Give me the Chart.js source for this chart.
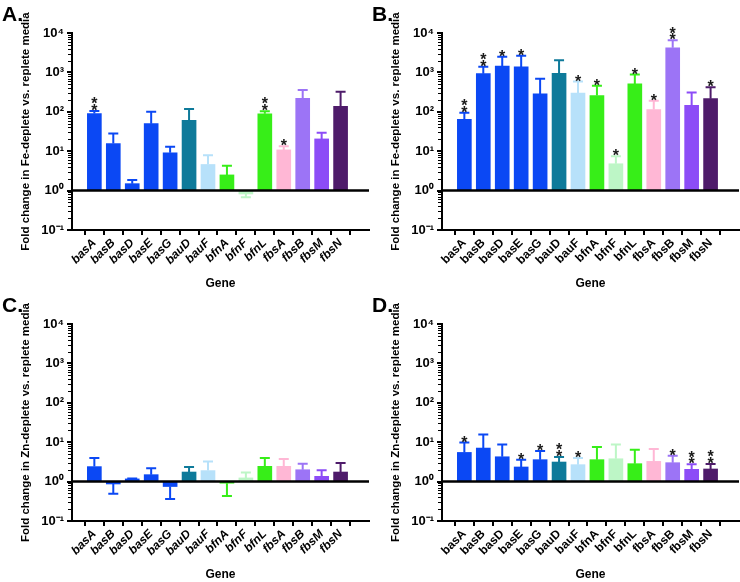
<!DOCTYPE html>
<html><head><meta charset="utf-8">
<script src="https://cdn.jsdelivr.net/npm/chart.js@4/dist/chart.umd.min.js"></script>
<style>
html,body{margin:0;padding:0;background:#fff;}
.p{position:absolute;width:370px;height:291px;}
</style></head><body>
<div class="p" style="left:0;top:0"><canvas id="cA"></canvas></div>
<div class="p" style="left:370px;top:0"><canvas id="cB"></canvas></div>
<div class="p" style="left:0;top:291px"><canvas id="cC"></canvas></div>
<div class="p" style="left:370px;top:291px"><canvas id="cD"></canvas></div>
<script>
// ---- data ----
const genes = ['basA','basB','basD','basE','basG','bauD','bauF','bfnA','bfnF','bfnL','fbsA','fbsB','fbsM','fbsN'];
const yTickValues = [0.1, 1, 10, 100, 1000, 10000];
const yTickLabels = ['10\u207B\u00B9','10\u2070','10\u00B9','10\u00B2','10\u00B3','10\u2074'];

const feA_mean  = [90, 15.6, 1.5, 50, 9.1, 61, 4.6, 2.5, 0.82, 89, 10.8, 220, 20.5, 138];
const feA_error = [105, 28, 1.87, 100, 13, 118, 7.9, 4.3, 0.68, 103, 13.3, 357, 29.6, 325];
const feA_stars = ['**','','','','','','','','','**','*','','',''];

const feB_mean  = [64, 930, 1450, 1380, 285, 950, 300, 258, 4.8, 510, 114, 4200, 147, 215];
const feB_error = [94, 1400, 2480, 2630, 695, 2030, 585, 460, 7.4, 880, 192, 6500, 310, 420];
const feB_stars = ['**','**','*','*','','','*','*','*','*','*','**','','*'];

const znC_mean  = [2.4, 0.87, 1.17, 1.5, 0.75, 1.75, 1.9, 0.91, 1.24, 2.44, 2.44, 2.0, 1.36, 1.75];
const znC_error = [3.96, 0.49, 1.2, 2.17, 0.36, 2.35, 3.26, 0.43, 1.69, 3.96, 3.74, 2.85, 1.93, 2.96];
const znC_stars = ['','','','','','','','','','','','','',''];

const znD_mean  = [5.5, 7.1, 4.27, 2.35, 3.6, 3.14, 2.69, 3.6, 3.8, 2.85, 3.26, 3.02, 2.05, 2.09];
const znD_error = [9.8, 15.7, 8.8, 3.6, 5.95, 4.2, 3.96, 7.5, 8.8, 6.4, 6.7, 4.54, 2.74, 2.8];
const znD_stars = ['*','','','*','*','**','*','','','','','*','**','**'];

// ---- styles ----
const barColors = ['#0b48f4','#0b48f4','#0b48f4','#0b48f4','#0b48f4','#0e7a9a','#b7e1fa','#37ee18','#bdf6c6','#37ee18','#ffb7d5','#9c74f6','#8c4cf7','#4e1b6a'];
const FONT = '"Liberation Sans", Arial, Helvetica, sans-serif';

const decor = {
  id: 'decor',
  afterDatasetsDraw(chart, args, o) {
    const ctx = chart.ctx, ys = chart.scales.y, ca = chart.chartArea;
    ctx.save();
    // minor ticks on y axis
    ctx.strokeStyle = '#000'; ctx.lineWidth = 1;
    for (let d = -1; d < 4; d++) {
      for (let k = 2; k < 10; k++) {
        const py = Math.round(ys.getPixelForValue(k * Math.pow(10, d))) + 0.5;
        ctx.beginPath(); ctx.moveTo(ca.left - 4, py); ctx.lineTo(ca.left, py); ctx.stroke();
      }
    }
    // baseline at 1
    const by = ys.getPixelForValue(1);
    ctx.lineWidth = 2.5;
    ctx.beginPath(); ctx.moveTo(ca.left, by); ctx.lineTo(ca.right, by); ctx.stroke();
    // error bars & stars
    const meta = chart.getDatasetMeta(0);
    meta.data.forEach((bar, i) => {
      const v = o.values[i], e = o.errors[i];
      const yv = ys.getPixelForValue(v), ye = ys.getPixelForValue(e);
      ctx.strokeStyle = barColors[i]; ctx.lineWidth = 2;
      ctx.beginPath();
      ctx.moveTo(bar.x, yv); ctx.lineTo(bar.x, ye);
      ctx.moveTo(bar.x - 5, ye); ctx.lineTo(bar.x + 5, ye);
      ctx.stroke();
      const s = o.stars[i];
      if (s) {
        ctx.fillStyle = '#1a1a1a';
        ctx.font = 'bold 16px ' + FONT;
        ctx.textAlign = 'center'; ctx.textBaseline = 'alphabetic';
        for (let k = 0; k < s.length; k++) {
          ctx.fillText('*', bar.x, ye + 5 - k * 6.8);
        }
      }
    });
    // panel letter
    ctx.fillStyle = '#000';
    ctx.font = 'bold 21px ' + FONT;
    ctx.textAlign = 'left'; ctx.textBaseline = 'alphabetic';
    ctx.fillText(o.letter, 2, 21);
    ctx.restore();
  }
};

function makePanel(id, letter, yTitle, values, errors, stars, italic) {
  new Chart(document.getElementById(id), {
    type: 'bar',
    data: {
      datasets: [{
        data: values.map((v, i) => ({ x: i, y: [1, v] })),
        backgroundColor: barColors,
        borderWidth: 0,
        barThickness: 14
      }]
    },
    options: {
      responsive: true,
      maintainAspectRatio: false,
      animation: false,
      layout: { padding: { top: 33, right: 1, left: 0, bottom: 0 } },
      plugins: {
        legend: { display: false },
        tooltip: { enabled: false },
        decor: { letter: letter, values: values, errors: errors, stars: stars }
      },
      scales: {
        x: {
          type: 'linear',
          min: -0.62, max: 13.94,
          afterBuildTicks: s => { s.ticks = genes.map((g, i) => ({ value: i })); },
          afterFit: s => { s.height = 61; },
          ticks: {
            autoSkip: false, minRotation: 45, maxRotation: 45,
            callback: v => genes[v],
            color: '#000', padding: 1,
            font: { family: FONT, size: 12, weight: 'bold', style: italic ? 'italic' : 'normal' }
          },
          grid: { drawOnChartArea: false, drawTicks: true, tickLength: 5, color: '#000', lineWidth: 2 },
          border: { display: true, color: '#000', width: 2 },
          title: { display: true, text: 'Gene', color: '#000', padding: { top: 0, bottom: 0 },
                   font: { family: FONT, size: 12, weight: 'bold' } }
        },
        y: {
          type: 'logarithmic',
          min: 0.1, max: 10000,
          afterBuildTicks: s => { s.ticks = yTickValues.map(v => ({ value: v, major: true })); },
          afterFit: s => { s.width = 72; },
          ticks: {
            callback: v => yTickLabels[yTickValues.indexOf(v)],
            color: '#000', padding: 3,
            font: { family: FONT, size: 13, weight: 'bold' }
          },
          grid: { drawOnChartArea: false, drawTicks: true, tickLength: 5, color: '#000', lineWidth: 2 },
          border: { display: true, color: '#000', width: 2 },
          title: { display: true, text: yTitle, color: '#000', padding: { top: 19, bottom: 0 },
                   font: { family: FONT, size: 11.5, weight: 'bold' } }
        }
      }
    },
    plugins: [decor]
  });
}

makePanel('cA', 'A.', 'Fold change in Fe-deplete vs. replete media', feA_mean, feA_error, feA_stars, true);
makePanel('cB', 'B.', 'Fold change in Fe-deplete vs. replete media', feB_mean, feB_error, feB_stars, false);
makePanel('cC', 'C.', 'Fold change in Zn-deplete vs. replete media', znC_mean, znC_error, znC_stars, true);
makePanel('cD', 'D.', 'Fold change in Zn-deplete vs. replete media', znD_mean, znD_error, znD_stars, false);
</script>
</body></html>
